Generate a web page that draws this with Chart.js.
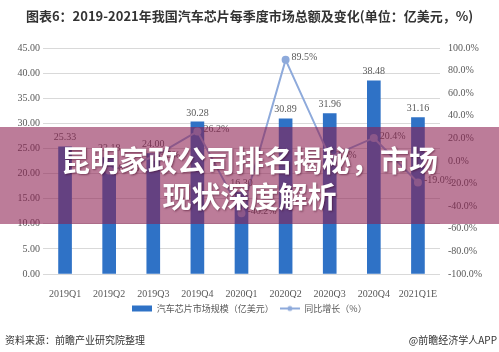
<!DOCTYPE html>
<html>
<head>
<meta charset="utf-8">
<script src="https://cdn.jsdelivr.net/npm/chart.js@4"></script>
<style>
  body { margin: 0; background: #fff; }
  #wrap { position: relative; width: 499px; height: 352px; overflow: hidden; background: #fff; }
  #title { position: absolute; left: 0; top: 6px; width: 499px; text-align: center;
           font: bold 13px "Noto Sans CJK SC", sans-serif; color: #333; }
  #source { position: absolute; left: 5px; top: 332px; font: 10px "Noto Sans CJK SC", sans-serif; color: #333; }
  #app { position: absolute; right: 2px; top: 332px; font: 10px "Noto Sans CJK SC", sans-serif; color: #333; }
  #banner { position: absolute; left: 0; top: 127px; width: 499px; height: 97px;
            background: rgba(140, 30, 80, 0.58); }
  #banner div { position: absolute; left: 0; width: 499px; text-align: center; color: #fff;
                font: bold 29px "Noto Sans CJK SC", sans-serif; text-shadow: 1px 1px 2px rgba(60,0,30,0.5); }
  canvas { position: absolute; left: 0; top: 0; }
</style>
</head>
<body>
<div id="wrap">
  <canvas id="chipChart" width="499" height="352"></canvas>
  <div id="title">图表6：2019-2021年我国汽车芯片每季度市场总额及变化(单位：亿美元，%)</div>
  <div id="banner">
    <div style="top: 11px;">昆明家政公司排名揭秘，市场</div>
    <div style="top: 47px;">现状深度解析</div>
  </div>
  <div id="source">资料来源：前瞻产业研究院整理</div>
  <div id="app">@前瞻经济学人APP</div>
</div>
<script>
// data
const quarters = ['2019Q1', '2019Q2', '2019Q3', '2019Q4', '2020Q1', '2020Q2', '2020Q3', '2020Q4', '2021Q1E'];
const marketSize = [25.33, 23.18, 24.00, 30.28, 16.30, 30.89, 31.96, 38.48, 31.16];
const growthRate = [null, -8.5, 3.5, 26.2, -46.2, 89.5, 3.5, 20.4, -19.0];

const barColor = '#2f72c6';
const lineColor = '#8eaadb';
const textGray = '#595959';
const serif = '"Liberation Serif", serif';

// little legend icons: a flat bar and a line with a dot
function makeIcon(kind) {
    const c = document.createElement('canvas');
    c.width = 20; c.height = 8;
    const g = c.getContext('2d');
    if (kind === 'bar') {
        g.fillStyle = barColor;
        g.fillRect(0, 1, 20, 6);
    } else {
        g.strokeStyle = lineColor;
        g.lineWidth = 2;
        g.beginPath(); g.moveTo(0, 4); g.lineTo(20, 4); g.stroke();
        g.fillStyle = lineColor;
        g.beginPath(); g.arc(10, 4, 2.5, 0, Math.PI * 2); g.fill();
    }
    return c;
}
const icons = [makeIcon('bar'), makeIcon('line')];

// value labels on bars and points
const valueLabels = {
    id: 'valueLabels',
    afterDatasetsDraw(chart) {
        const ctx = chart.ctx;
        ctx.save();
        ctx.font = '10px ' + serif;
        ctx.fillStyle = textGray;
        chart.getDatasetMeta(0).data.forEach((bar, i) => {
            ctx.textAlign = 'center';
            ctx.textBaseline = 'bottom';
            ctx.fillText(marketSize[i].toFixed(2), bar.x, bar.y - 4);
        });
        chart.getDatasetMeta(1).data.forEach((pt, i) => {
            if (growthRate[i] == null) return;
            ctx.textAlign = 'left';
            ctx.textBaseline = 'middle';
            ctx.fillText(growthRate[i].toFixed(1) + '%', pt.x + 6, pt.y - 2);
        });
        ctx.restore();
    }
};

const ctx = document.getElementById('chipChart').getContext('2d');
new Chart(ctx, {
    data: {
        labels: quarters,
        datasets: [{
            type: 'bar',
            label: '汽车芯片市场规模（亿美元）',
            data: marketSize,
            backgroundColor: barColor,
            barThickness: 13,
            yAxisID: 'y',
            order: 1
        }, {
            type: 'line',
            label: '同比增长（%）',
            data: growthRate,
            borderColor: lineColor,
            backgroundColor: lineColor,
            borderWidth: 2,
            pointRadius: 3,
            pointBackgroundColor: lineColor,
            yAxisID: 'y1',
            order: 0
        }]
    },
    options: {
        responsive: false,
        animation: false,
        layout: { padding: { top: 48, bottom: 29, left: 0, right: 0 } },
        scales: {
            x: {
                grid: { display: false },
                border: { display: false },
                ticks: { color: textGray, font: { family: serif, size: 10 }, padding: 6, maxRotation: 0 },
                afterFit(scale) { scale.height = 24; }
            },
            y: {
                position: 'left',
                min: 0, max: 45,
                ticks: { stepSize: 5, color: textGray, font: { family: serif, size: 10 }, padding: 3,
                         callback: v => v.toFixed(2) },
                grid: { color: '#d9d9d9', drawTicks: false },
                border: { display: false },
                afterFit(scale) { scale.width = 43; }
            },
            y1: {
                position: 'right',
                min: -100, max: 100,
                ticks: { stepSize: 20, color: textGray, font: { family: serif, size: 10 }, padding: 8,
                         callback: v => v.toFixed(1) + '%' },
                grid: { display: false, drawTicks: false },
                border: { display: false },
                afterFit(scale) { scale.width = 59; }
            }
        },
        plugins: {
            tooltip: { enabled: false },
            legend: {
                position: 'bottom',
                labels: {
                    usePointStyle: true,
                    pointStyleWidth: 20,
                    padding: 6,
                    color: textGray,
                    font: { family: '"Noto Sans CJK SC", sans-serif', size: 9 },
                    generateLabels(chart) {
                        const items = Chart.defaults.plugins.legend.labels.generateLabels(chart);
                        items.sort((a, b) => a.datasetIndex - b.datasetIndex);
                        items.forEach(it => { it.pointStyle = icons[it.datasetIndex]; });
                        return items;
                    }
                }
            }
        }
    },
    plugins: [valueLabels]
});
</script>
</body>
</html>
